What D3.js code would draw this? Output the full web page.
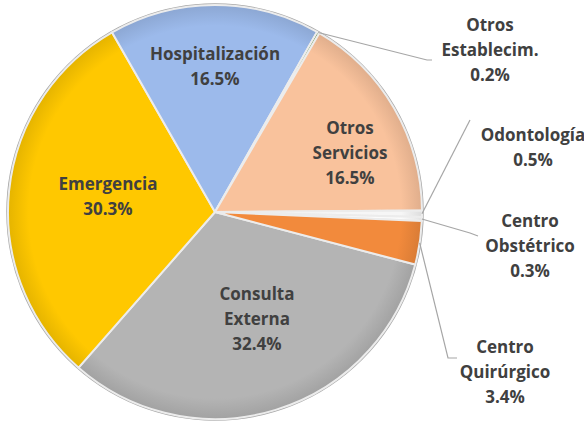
<!DOCTYPE html>
<html lang="es">
<head>
<meta charset="UTF-8">
<title>Pie</title>
<script src="https://d3js.org/d3.v7.min.js"></script>
<style>
  body { margin: 0; background: #fff; }
  svg { display: block; }
  text { font-family: "Open Sans", Lato, sans-serif; font-weight: 700; fill: #404040; }
</style>
</head>
<body>
<div id="chart"></div>
<script>
// data (order as drawn, clockwise)
const categories = ["Consulta Externa", "Emergencia", "Hospitalización", "Otros Establecim.",
                    "Otros Servicios", "Odontología", "Centro Obstétrico", "Centro Quirúrgico"];
const values = [32.4, 30.3, 16.5, 0.2, 16.5, 0.5, 0.3, 3.4];
const labelLines = [["Consulta", "Externa"], ["Emergencia"], ["Hospitalización"], ["Otros", "Establecim."],
                    ["Otros", "Servicios"], ["Odontología"], ["Centro", "Obstétrico"], ["Centro", "Quirúrgico"]];
const colors = ["#b4b4b4", "#ffc800", "#9cbaeb", "#5a8a3a", "#f9c29c", "#f6f6f6", "#fbfbfb", "#f28a3c"];

const width = 584, height = 421;
const cx = 215, cy = 212, R = 207;

// label layout
const labelPos = [
  { x: 257, y: 294 }, { x: 108, y: 184 }, { x: 215, y: 54 }, { x: 490, y: 25, bend: [427, 60], end: [432, 60] },
  { x: 350, y: 128 }, { x: 533, y: 135, bend: [470, 120], end: [470, 120] },
  { x: 530, y: 221, bend: [470, 233], end: [478, 236] }, { x: 505, y: 347, bend: [448, 358], end: [457, 358] }
];
const outside = [false, false, false, true, false, true, true, true];

const svg = d3.select("#chart").append("svg")
  .attr("width", width).attr("height", height);

const defs = svg.append("defs");
colors.forEach((c, i) => {
  const gr = defs.append("radialGradient")
    .attr("id", "grad" + i)
    .attr("gradientUnits", "userSpaceOnUse")
    .attr("cx", 0).attr("cy", 0).attr("r", R);
  gr.append("stop").attr("offset", "0%").attr("stop-color", c);
  gr.append("stop").attr("offset", "90%").attr("stop-color", c);
  gr.append("stop").attr("offset", "100%").attr("stop-color", d3.color(c).darker(0.3));
});

// start so that Consulta Externa begins just past 3 o'clock
const startDeg = 104.7;
const pie = d3.pie().sort(null).value(d => d)
  .startAngle(startDeg * Math.PI / 180)
  .endAngle((startDeg + 360) * Math.PI / 180);
const arcs = pie(values);

const arc = d3.arc().innerRadius(0).outerRadius(R);
const outerArc = d3.arc().innerRadius(R).outerRadius(R);

const g = svg.append("g").attr("transform", `translate(${cx},${cy})`);

g.append("circle").attr("r", R + 1).attr("fill", "none").attr("stroke", "#a8a8a8").attr("stroke-width", 1.5);

g.selectAll("path.slice")
  .data(arcs)
  .enter().append("path")
  .attr("class", "slice")
  .attr("d", arc)
  .attr("fill", (d, i) => `url(#grad${i})`)
  .attr("stroke", "#ececec")
  .attr("stroke-width", 2)
  .attr("stroke-linejoin", "round");

// leader lines
arcs.forEach((d, i) => {
  if (!outside[i]) return;
  const p = outerArc.centroid(d);
  const lp = labelPos[i];
  const pts = [[p[0] + cx, p[1] + cy], lp.bend, lp.end];
  svg.append("path")
    .attr("d", d3.line()(pts))
    .attr("fill", "none")
    .attr("stroke", "#a6a6a6")
    .attr("stroke-width", 1.2);
});

// labels
const lineH = 25;
arcs.forEach((d, i) => {
  const lp = labelPos[i];
  const lines = labelLines[i].concat([values[i].toFixed(1) + "%"]);
  const t = svg.append("text")
    .attr("text-anchor", "middle")
    .style("font-size", "17px");
  lines.forEach((s, k) => {
    t.append("tspan")
      .attr("x", lp.x)
      .attr("y", lp.y + k * lineH)
      .attr("dy", "0.35em")
      .text(s);
  });
});
</script>
</body>
</html>
